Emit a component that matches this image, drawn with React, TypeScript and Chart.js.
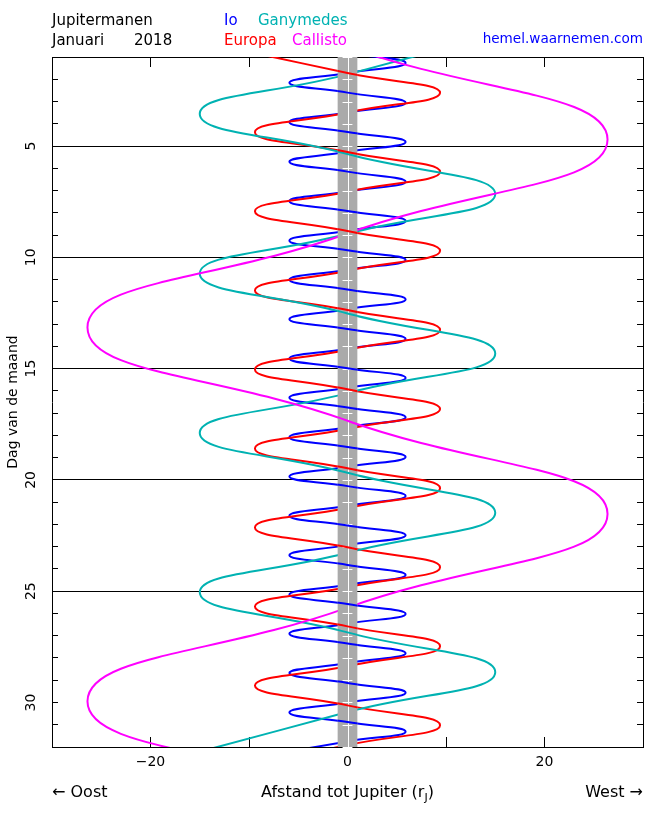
import React, { useEffect, useRef } from "react";
import { Chart, registerables } from "chart.js";

Chart.register(...registerables);

// ---------------- data: [day of month, distance from Jupiter in r_J (+ = West)] ----------------
// (the first and last entry of each track lie just outside the plotted days and are clipped)
const ioTrack = [
  [0.83, 0],
  [1.27, 5.9], [1.72, 0], [2.16, -5.9], [2.6, 0],
  [3.05, 5.9], [3.49, 0], [3.93, -5.9], [4.37, 0],
  [4.82, 5.9], [5.26, 0], [5.71, -5.9], [6.15, 0],
  [6.6, 5.9], [7.04, 0], [7.48, -5.9], [7.92, 0],
  [8.37, 5.9], [8.81, 0], [9.25, -5.9], [9.68, 0],
  [10.12, 5.9], [10.56, 0], [11.01, -5.9], [11.45, 0],
  [11.89, 5.9], [12.33, 0], [12.78, -5.9], [13.22, 0],
  [13.67, 5.9], [14.11, 0], [14.55, -5.9], [14.98, 0],
  [15.42, 5.9], [15.86, 0], [16.31, -5.9], [16.75, 0],
  [17.19, 5.9], [17.63, 0], [18.08, -5.9], [18.52, 0],
  [18.97, 5.9], [19.41, 0], [19.85, -5.9], [20.28, 0],
  [20.72, 5.9], [21.16, 0], [21.61, -5.9], [22.05, 0],
  [22.49, 5.9], [22.93, 0], [23.38, -5.9], [23.82, 0],
  [24.27, 5.9], [24.71, 0], [25.15, -5.9], [25.58, 0],
  [26.02, 5.9], [26.46, 0], [26.91, -5.9], [27.35, 0],
  [27.79, 5.9], [28.23, 0], [28.68, -5.9], [29.12, 0],
  [29.56, 5.9], [30.0, 0], [30.45, -5.9], [30.88, 0],
  [31.31, 5.9], [31.75, 0], [32.2, -5.9],
];

const europaTrack = [
  [0.83, -9.4], [1.72, 0],
  [2.61, 9.4], [3.49, 0], [4.38, -9.4], [5.27, 0],
  [6.16, 9.4], [7.05, 0], [7.93, -9.4], [8.82, 0],
  [9.71, 9.4], [10.6, 0], [11.49, -9.4], [12.37, 0],
  [13.26, 9.4], [14.15, 0], [15.04, -9.4], [15.93, 0],
  [16.82, 9.4], [17.7, 0], [18.59, -9.4], [19.48, 0],
  [20.37, 9.4], [21.25, 0], [22.14, -9.4], [23.03, 0],
  [23.92, 9.4], [24.81, 0], [25.69, -9.4], [26.58, 0],
  [27.47, 9.4], [28.36, 0], [29.24, -9.4], [30.13, 0],
  [31.02, 9.4], [31.91, 0], [32.8, -9.4],
];

const ganymedeTrack = [
  [0.0, 15.0], [1.78, 0],
  [3.56, -15.0], [5.36, 0], [7.16, 15.0], [8.94, 0],
  [10.73, -15.0], [12.52, 0], [14.32, 15.0], [16.1, 0],
  [17.89, -15.0], [19.68, 0], [21.48, 15.0], [23.27, 0],
  [25.05, -15.0], [26.85, 0], [28.64, 15.0], [30.43, 0],
  [32.21, -15.0],
];

const callistoTrack = [
  [0.54, 0],
  [4.71, 26.4], [8.93, 0], [13.15, -26.4], [17.34, 0],
  [21.53, 26.4], [25.74, 0], [29.95, -26.4], [34.1, 0],
];

const moonNames = ["Io", "Europa", "Ganymedes", "Callisto"];
const moonColors = ["#0000ff", "#ff0000", "#00b2b2", "#ff00ff"];
const xTickLabels: Record<string, string> = { "-20": "\u221220", "0": "0", "20": "20" };
const dayGridLines = [5, 10, 15, 20, 25];
const dayLabelStep = 5;
const jupiterDisk = [-1, 1];
const dayMarkHalfWidth = 0.5;

const FONT = '"DejaVu Sans", sans-serif';

function drawBand(chart: any) {
  const { ctx, chartArea } = chart;
  const xs = chart.scales.x;
  const ys = chart.scales.y;
  const l = xs.getPixelForValue(jupiterDisk[0]);
  const r = xs.getPixelForValue(jupiterDisk[1]);
  const c = xs.getPixelForValue(0);
  ctx.save();
  ctx.fillStyle = "#aaaaaa";
  ctx.fillRect(l, chartArea.top, r - l, chartArea.bottom - chartArea.top);
  ctx.strokeStyle = "#ffffff";
  ctx.lineWidth = 1;
  ctx.beginPath();
  const cx = Math.round(c) + 0.5;
  ctx.moveTo(cx, chartArea.top);
  ctx.lineTo(cx, chartArea.bottom);
  const ml = xs.getPixelForValue(-dayMarkHalfWidth);
  const mr = xs.getPixelForValue(dayMarkHalfWidth);
  for (const t of ys.ticks) {
    const y = Math.round(ys.getPixelForValue(t.value)) + 0.5;
    ctx.moveTo(ml, y);
    ctx.lineTo(mr, y);
  }
  ctx.stroke();
  ctx.restore();
}

const jupiterPlugin = {
  id: "jupiterBand",
  beforeDatasetsDraw(chart: any) {
    chart.$bandDone = false;
  },
  beforeDatasetDraw(chart: any, args: any) {
    const ds = chart.data.datasets[args.index];
    if (!ds.front) return;
    if (!chart.$bandDone) {
      drawBand(chart);
      chart.$bandDone = true;
    }
    const { ctx, chartArea } = chart;
    const xs = chart.scales.x;
    const l = xs.getPixelForValue(jupiterDisk[0]);
    const r = xs.getPixelForValue(jupiterDisk[1]);
    ctx.save();
    ctx.beginPath();
    ctx.rect(l, chartArea.top, r - l, chartArea.bottom - chartArea.top);
    ctx.clip();
  },
  afterDatasetDraw(chart: any, args: any) {
    const ds = chart.data.datasets[args.index];
    if (ds.front) chart.ctx.restore();
  },
  afterDatasetsDraw(chart: any) {
    if (!chart.$bandDone) {
      drawBand(chart);
      chart.$bandDone = true;
    }
  },
};

const textPlugin = {
  id: "texts",
  afterDraw(chart: any) {
    const ctx = chart.ctx;
    const area = chart.chartArea;
    ctx.save();
    ctx.textBaseline = "alphabetic";
    const put = (t: string, x: number, y: number, color: string, align: CanvasTextAlign = "left") => {
      ctx.fillStyle = color;
      ctx.textAlign = align;
      ctx.fillText(t, x, y);
    };
    ctx.font = `15px ${FONT}`;
    put("Jupitermanen", area.left, 25, "#000");
    put("Januari", area.left, 45, "#000");
    put("2018", 134, 45, "#000");
    put(moonNames[0], 224, 25, moonColors[0]);
    put(moonNames[2], 258, 25, moonColors[2]);
    put(moonNames[1], 224, 45, moonColors[1]);
    put(moonNames[3], 292, 45, moonColors[3]);
    ctx.font = `13.6px ${FONT}`;
    put("hemel.waarnemen.com", area.right, 43, "#0000ff", "right");

    const yb = 797;
    const big = `16px ${FONT}`;
    const small = `11px ${FONT}`;
    ctx.font = big;
    put("\u2190 Oost", area.left, yb, "#000");
    put("West \u2192", area.right, yb, "#000", "right");
    // centred axis title with subscript J
    const a = "Afstand tot Jupiter (r";
    const b = ")";
    const wa = ctx.measureText(a).width;
    const wb = ctx.measureText(b).width;
    ctx.font = small;
    const wj = ctx.measureText("J").width;
    const total = wa + wj + wb;
    const cx = chart.scales.x.getPixelForValue(0);
    const x0 = cx - total / 2;
    ctx.font = big;
    put(a, x0, yb, "#000");
    ctx.font = small;
    put("J", x0 + wa, yb + 4, "#000");
    ctx.font = big;
    put(b, x0 + wa + wj, yb, "#000");
    ctx.restore();
  },
};

const tracks = [ioTrack, europaTrack, ganymedeTrack, callistoTrack];

const zeroPad = (s: any) => {
  s.paddingLeft = 0;
  s.paddingRight = 0;
  s.paddingTop = 0;
  s.paddingBottom = 0;
};

export default function App() {
  const ref = useRef<HTMLCanvasElement | null>(null);

  useEffect(() => {
    if (!ref.current) return;
    Chart.defaults.font.family = FONT;
    Chart.defaults.font.size = 14;
    Chart.defaults.color = "#000";

    const toData = (t: number[][]) => t.map(([d, x]) => ({ x, y: d }));
    const back = tracks.map((t, i) => ({
      label: moonNames[i],
      data: toData(t),
      borderColor: moonColors[i],
      borderWidth: 2,
      pointRadius: 0,
      tension: 0.5,
      fill: false,
      order: 5 - i,
    }));
    const front = tracks.map((t, i) => ({
      label: moonNames[i] + " (voor Jupiter)",
      front: true,
      data: toData(t),
      borderColor: moonColors[i],
      borderWidth: 2,
      pointRadius: 0,
      tension: 0.5,
      fill: false,
      order: 1,
      segment: {
        borderColor: (c: any) => (c.p1.x > c.p0.x ? moonColors[i] : "rgba(0,0,0,0)"),
      },
    }));

    const chart = new Chart(ref.current, {
      type: "line",
      data: { datasets: [...back, ...front] as any },
      plugins: [jupiterPlugin, textPlugin],
      options: {
        animation: false,
        responsive: false,
        indexAxis: "y",
        layout: { padding: { top: 57, right: 7, left: 0, bottom: 0 } },
        plugins: {
          legend: { display: false },
          tooltip: { enabled: false },
          title: { display: false },
        },
        scales: {
          x: {
            type: "linear",
            position: "bottom",
            min: -30,
            max: 30,
            ticks: {
              stepSize: 10,
              autoSkip: false,
              maxRotation: 0,
              padding: 17,
              color: "#000",
              font: { family: FONT, size: 14 },
              callback: (v: any) => xTickLabels[String(v)] ?? "",
            },
            grid: { drawOnChartArea: false, tickLength: -10, tickColor: "#000", color: "#000" },
            border: { color: "#000", width: 1 },
            afterFit: (s: any) => {
              s.height = 66;
              zeroPad(s);
            },
          },
          x2: {
            type: "linear",
            position: "top",
            min: -30,
            max: 30,
            ticks: { stepSize: 10, display: false },
            grid: { drawOnChartArea: false, tickLength: -10, tickColor: "#000", color: "#000" },
            border: { color: "#000", width: 1 },
            afterFit: (s: any) => {
              s.height = 0;
              zeroPad(s);
            },
          },
          y: {
            type: "linear",
            position: "left",
            reverse: true,
            min: 1,
            max: 32,
            ticks: {
              stepSize: 1,
              autoSkip: false,
              minRotation: 90,
              maxRotation: 90,
              padding: 18,
              crossAlign: "center",
              color: "#000",
              font: { family: FONT, size: 14 },
              callback: (v: any) => (Number(v) % dayLabelStep === 0 ? String(v) : ""),
            },
            grid: {
              tickLength: -6,
              tickColor: "#000",
              color: (c: any) => (c.tick && dayGridLines.includes(c.tick.value) ? "#000" : "rgba(0,0,0,0)"),
            },
            border: { color: "#000", width: 1 },
            title: {
              display: true,
              text: "Dag van de maand",
              color: "#000",
              font: { family: FONT, size: 14 },
              padding: { top: 5, bottom: 0 },
            },
            afterFit: (s: any) => {
              s.width = 52;
              zeroPad(s);
            },
          },
          y2: {
            type: "linear",
            position: "right",
            reverse: true,
            min: 1,
            max: 32,
            ticks: { stepSize: 1, display: false },
            grid: { drawOnChartArea: false, tickLength: -6, tickColor: "#000", color: "#000" },
            border: { color: "#000", width: 1 },
            afterFit: (s: any) => {
              s.width = 0;
              zeroPad(s);
            },
          },
        },
      } as any,
    });
    return () => chart.destroy();
  }, []);

  return (
    <div style={{ position: "absolute", left: 0, top: 0, width: 650, height: 813, background: "#fff" }}>
      <canvas ref={ref} width={650} height={813} />
    </div>
  );
}
